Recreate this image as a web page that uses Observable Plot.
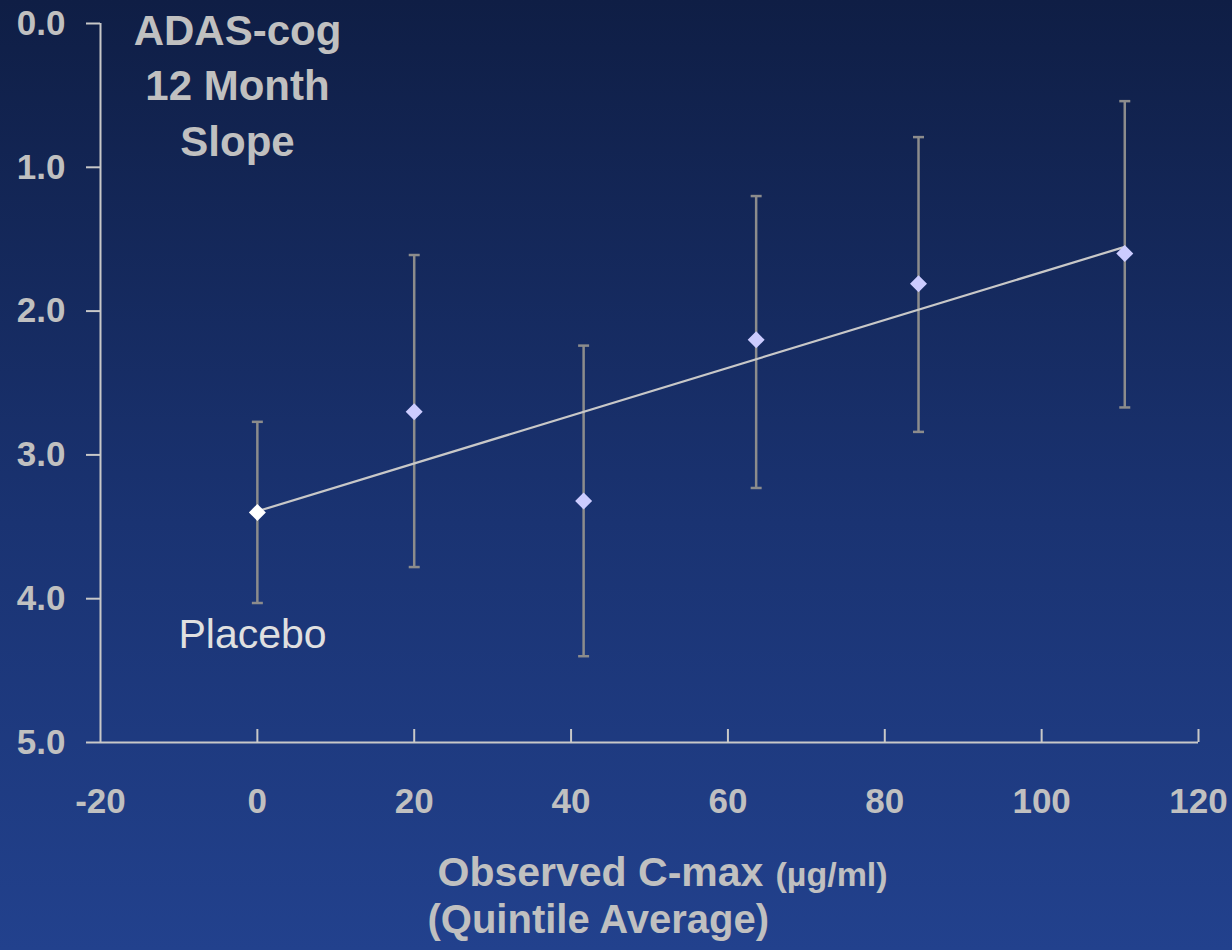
<!DOCTYPE html>
<html>
<head>
<meta charset="utf-8">
<script src="https://cdn.jsdelivr.net/npm/d3@7"></script>
<script src="https://cdn.jsdelivr.net/npm/@observablehq/plot@0.6"></script>
<style>
  html, body { margin: 0; padding: 0; background: #1a3270; overflow: hidden; }
  #chart svg { display: block; }
</style>
</head>
<body>
<div id="chart"></div>
<script>
// ---- data ----
const groups = ["Placebo", "Q1", "Q2", "Q3", "Q4", "Q5"];
const cmax   = [0, 20.0, 41.6, 63.6, 84.3, 110.6];      // observed C-max (µg/ml)
const slope  = [3.40, 2.70, 3.32, 2.20, 1.81, 1.60];    // ADAS-cog 12-month slope
const lower  = [4.03, 3.78, 4.40, 3.23, 2.84, 2.67];    // error bar end (bottom)
const upper  = [2.77, 1.61, 2.24, 1.20, 0.79, 0.54];    // error bar end (top)
const xTicks = [-20, 0, 20, 40, 60, 80, 100, 120];
const yTicks = [0, 1, 2, 3, 4, 5];
const titleLines = ["ADAS-cog", "12 Month", "Slope"];
const xTitle1 = "Observed C-max";
const xTitleUnit = "(\u00b5g/ml)";
const xTitle2 = "(Quintile Average)";
const placeboLabel = "Placebo";

const rows = groups.map((g, i) => ({group: g, x: cmax[i], y: slope[i], lo: lower[i], hi: upper[i]}));

const W = 1232, H = 950;
const mL = 100, mR = 34, mT = 23, mB = 208;
const plotH = H - mT - mB;

const FONT = "'Liberation Sans', Arial, Helvetica, sans-serif";
const TXT = "#c0c0c0";

const capSymbol = {
  draw(ctx, size) { const r = Math.sqrt(size / Math.PI); ctx.moveTo(-r, 0); ctx.lineTo(r, 0); }
};
const diamondSymbol = {
  draw(ctx, size) {
    const r = Math.sqrt(size / Math.PI);
    ctx.moveTo(0, -r); ctx.lineTo(r, 0); ctx.lineTo(0, r); ctx.lineTo(-r, 0); ctx.closePath();
  }
};

const chart = Plot.plot({
  width: W,
  height: H,
  marginLeft: mL,
  marginRight: mR,
  marginTop: mT,
  marginBottom: mB,
  style: {
    background: "linear-gradient(180deg, #0f1e45 0%, #1a3372 55%, #22418d 100%)",
    color: TXT,
    fontFamily: FONT
  },
  x: {domain: [-20, 120], label: null},
  y: {domain: [0, 5], reverse: true, label: null},
  marks: [
    // axes
    Plot.axisY({ticks: yTicks, tickFormat: d3.format(".1f"), tickSize: 14, tickPadding: 21,
      fontSize: 35, fontWeight: "bold", fontFamily: FONT, strokeWidth: 2, stroke: "#c8c8c8", fill: TXT, label: null}),
    Plot.axisX({ticks: xTicks, tickFormat: d => String(d), tickSize: 0, tickPadding: 46,
      fontSize: 35, fontWeight: "bold", fontFamily: FONT, fill: TXT, label: null}),
    Plot.ruleX([-20], {stroke: "#c8c8c8", strokeWidth: 2}),
    Plot.ruleY([5], {stroke: "#c8c8c8", strokeWidth: 2}),
    Plot.ruleX(xTicks.slice(1), {insetTop: plotH - 13, stroke: "#c8c8c8", strokeWidth: 2}),

    // error bars
    Plot.ruleX(rows, {x: "x", y1: "lo", y2: "hi", stroke: "#8c8c8c", strokeWidth: 2.5}),
    Plot.dot(rows, {x: "x", y: "lo", symbol: capSymbol, r: 5.5, fill: "none", stroke: "#8c8c8c", strokeWidth: 2.5}),
    Plot.dot(rows, {x: "x", y: "hi", symbol: capSymbol, r: 5.5, fill: "none", stroke: "#8c8c8c", strokeWidth: 2.5}),

    // regression line
    Plot.linearRegressionY(rows, {x: "x", y: "y", ci: 0, stroke: "#c8c8c8", strokeWidth: 2.2}),

    // points
    Plot.dot(rows, {x: "x", y: "y", symbol: diamondSymbol, r: 8.5, stroke: "none",
      fill: "#ccccff", filter: d => d.group !== "Placebo"}),
    Plot.dot(rows, {x: "x", y: "y", symbol: diamondSymbol, r: 8.5, stroke: "none",
      fill: "#ffffff", filter: d => d.group === "Placebo"}),

    // in-plot title
    Plot.text([titleLines.join("\n")], {frameAnchor: "top-left", dx: 137, dy: 132,
      textAnchor: "middle", lineAnchor: "bottom", lineHeight: 1.31,
      fontSize: 42, fontWeight: "bold", fontFamily: FONT, fill: TXT}),

    // placebo label
    Plot.text([placeboLabel], {frameAnchor: "top-left", dx: 152, dy: 624,
      textAnchor: "middle", lineAnchor: "bottom",
      fontSize: 41, fontWeight: "normal", fontFamily: FONT, fill: "#e0e0e0"}),

    // x-axis title
    Plot.text([xTitle1], {frameAnchor: "bottom-left", dx: 337, dy: 143,
      textAnchor: "start", lineAnchor: "bottom",
      fontSize: 41, fontWeight: "bold", fontFamily: FONT, fill: TXT}),
    Plot.text([xTitleUnit], {frameAnchor: "bottom-left", dx: 675, dy: 143,
      textAnchor: "start", lineAnchor: "bottom",
      fontSize: 34, fontWeight: "bold", fontFamily: FONT, fill: TXT}),
    Plot.text([xTitle2], {frameAnchor: "bottom-left", dx: 327, dy: 190,
      textAnchor: "start", lineAnchor: "bottom",
      fontSize: 40, fontWeight: "bold", fontFamily: FONT, fill: TXT})
  ]
});

document.getElementById("chart").appendChild(chart);
</script>
</body>
</html>
